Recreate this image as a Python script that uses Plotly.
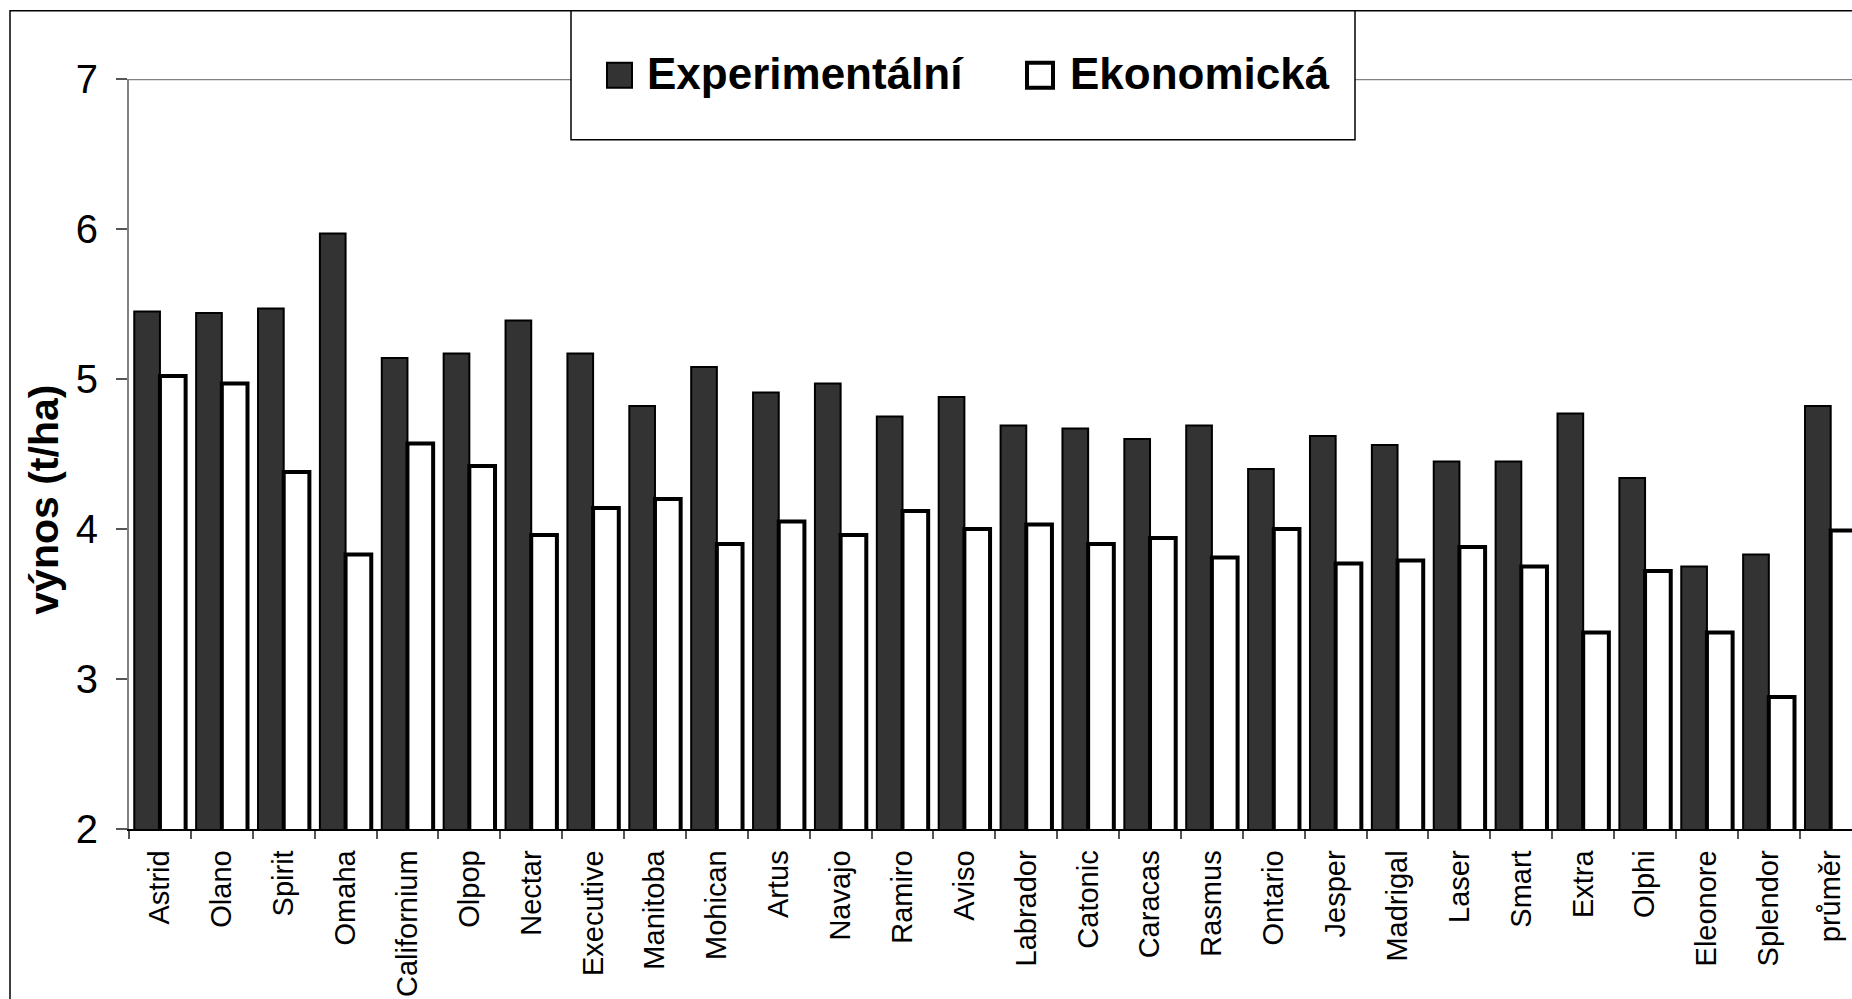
import plotly.graph_objects as go

# Odrůdy a výnosy (t/ha)
odrudy = ["Astrid", "Olano", "Spirit", "Omaha", "Californium", "Olpop", "Nectar",
          "Executive", "Manitoba", "Mohican", "Artus", "Navajo", "Ramiro", "Aviso",
          "Labrador", "Catonic", "Caracas", "Rasmus", "Ontario", "Jesper", "Madrigal",
          "Laser", "Smart", "Extra", "Olphi", "Eleonore", "Splendor", "průměr"]
experimentalni = [5.45, 5.44, 5.47, 5.97, 5.14, 5.17, 5.39, 5.17, 4.82, 5.08, 4.91,
                  4.97, 4.75, 4.88, 4.69, 4.67, 4.60, 4.69, 4.40, 4.62, 4.56, 4.45,
                  4.45, 4.77, 4.34, 3.75, 3.83, 4.82]
ekonomicka = [5.02, 4.97, 4.38, 3.83, 4.57, 4.42, 3.96, 4.14, 4.20, 3.90, 4.05,
              3.96, 4.12, 4.00, 4.03, 3.90, 3.94, 3.81, 4.00, 3.77, 3.79, 3.88,
              3.75, 3.31, 3.72, 3.31, 2.88, 3.99]
y_ticks = [2, 3, 4, 5, 6, 7]
nazvy_rad = ["Experimentální", "Ekonomická"]

W, H = 1852, 999
L, T, B = 129, 79.3, 829.3      # plot area edges in pixels
PW, PH = W - L, B - T
CAT_PX = 61.88                  # width of one category in pixels

FONT = "Liberation Sans, Arial, sans-serif"


def px_x(px):
    return (px - L) / PW


def px_y(py):
    return (B - py) / PH


fig = go.Figure()
fig.add_trace(go.Bar(
    x=odrudy, y=experimentalni, name=nazvy_rad[0],
    marker=dict(color="#333333", line=dict(color="#000000", width=2)),
    showlegend=False,
))
fig.add_trace(go.Bar(
    x=odrudy, y=ekonomicka, name=nazvy_rad[1],
    marker=dict(color="#ffffff", line=dict(color="#000000", width=4)),
    showlegend=False,
))

x_span = PW / CAT_PX
shapes = [
    # top border of the plot area
    dict(type="line", xref="paper", yref="y", x0=0, x1=1, y0=7, y1=7,
         line=dict(color="#808080", width=2.5), layer="above"),
    # outer chart frame
    dict(type="rect", xref="paper", yref="paper",
         x0=px_x(10), x1=px_x(W + 40), y0=px_y(11), y1=px_y(H + 40),
         line=dict(color="#000000", width=1.5), layer="above"),
    # legend box
    dict(type="rect", xref="paper", yref="paper",
         x0=px_x(571), x1=px_x(1355), y0=px_y(11), y1=px_y(140),
         line=dict(color="#000000", width=1.5), fillcolor="#ffffff", layer="above"),
    # legend keys
    dict(type="rect", xref="paper", yref="paper",
         x0=px_x(607), x1=px_x(632), y0=px_y(63), y1=px_y(88),
         line=dict(color="#000000", width=2), fillcolor="#333333", layer="above"),
    dict(type="rect", xref="paper", yref="paper",
         x0=px_x(1027), x1=px_x(1053), y0=px_y(63), y1=px_y(88),
         line=dict(color="#000000", width=4), fillcolor="#ffffff", layer="above"),
]

annotations = [
    dict(text=nazvy_rad[0], xref="paper", yref="paper", x=px_x(645), y=px_y(74),
         xanchor="left", yanchor="middle", showarrow=False,
         font=dict(family=FONT, size=44, color="#000000", weight="bold")),
    dict(text=nazvy_rad[1], xref="paper", yref="paper", x=px_x(1068), y=px_y(74),
         xanchor="left", yanchor="middle", showarrow=False,
         font=dict(family=FONT, size=44, color="#000000", weight="bold")),
    dict(text="výnos (t/ha)", xref="paper", yref="paper", x=px_x(44), y=px_y(500),
         xanchor="center", yanchor="middle", textangle=-90, showarrow=False,
         font=dict(family=FONT, size=41, color="#000000", weight="bold")),
]

fig.update_layout(
    width=W, height=H,
    margin=dict(l=L, r=0, t=T, b=H - B, autoexpand=False),
    paper_bgcolor="#ffffff", plot_bgcolor="#ffffff",
    barmode="group", bargap=0.17, bargroupgap=0,
    font=dict(family=FONT, color="#000000"),
    shapes=shapes, annotations=annotations,
    xaxis=dict(
        type="category", range=[-0.5, -0.5 + x_span], fixedrange=True,
        showline=True, linecolor="#000000", linewidth=1.5,
        ticks="outside", tickson="boundaries", ticklen=8, tickcolor="#555555",
        tickwidth=1.5, tickangle=-90, ticklabelstandoff=8,
        tickfont=dict(family=FONT, size=29, color="#000000"),
        showgrid=False, zeroline=False, automargin=False,
    ),
    yaxis=dict(
        range=[2, 7], tickvals=y_ticks, fixedrange=True,
        showline=True, linecolor="#808080", linewidth=2,
        ticks="outside", ticklen=11, tickcolor="#555555", tickwidth=1.5,
        ticklabelstandoff=10,
        tickfont=dict(family=FONT, size=40, color="#000000"),
        showgrid=False, zeroline=False, automargin=False,
    ),
)

fig.write_html("out.html")
